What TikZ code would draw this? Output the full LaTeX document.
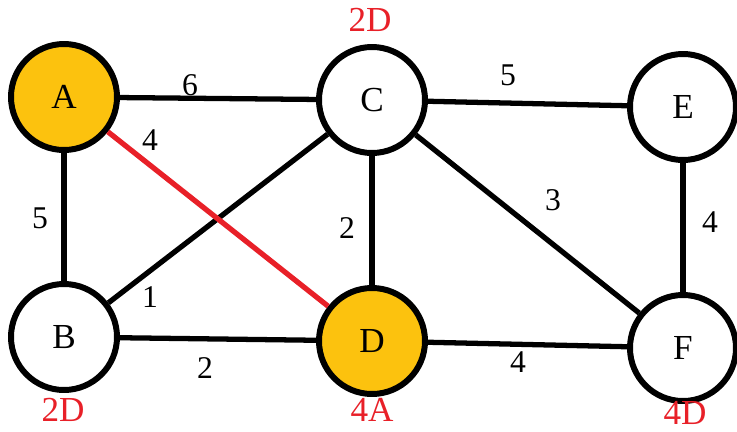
\documentclass[tikz,border=0pt]{standalone}
\usepackage{fontspec}
\setmainfont{Liberation Serif}
\usepackage{xcolor}
\usetikzlibrary{positioning}
\definecolor{visitgold}{RGB}{252,194,14}
\definecolor{pathred}{RGB}{232,32,40}

\begin{document}
\begin{tikzpicture}[
        vertex/.style={circle,draw=black,line width=3.4pt,fill=white,
          minimum size=2.12cm,inner sep=0pt,font=\fontsize{20}{24}\selectfont},
        visited/.style={vertex,fill=visitgold},
        edge/.style={line width=3pt,draw=black},
        bestedge/.style={edge,draw=pathred},
        weight/.style={inner sep=0pt,font=\fontsize{18}{21}\selectfont},
        dist/.style={inner sep=0pt,text=pathred,font=\fontsize{20}{24}\selectfont}
      ]
        \useasboundingbox (0,0) rectangle (14.74,8.62);
        % vertices
        \node[visited] (a) at (1.28,6.68) {A};
        \node[vertex] (c) at (7.44,6.62) {C};
        \node[vertex] (e) at (13.66,6.48) {E};
        \node[vertex] (b) at (1.28,1.88) {B};
        \node[visited] (d) at (7.44,1.80) {D};
        \node[vertex] (f) at (13.66,1.66) {F};
        % edges
        \draw[edge] (a) -- (c);
        \draw[edge] (c) -- (e);
        \draw[edge] (a) -- (b);
        \draw[edge] (b) -- (c);
        \draw[edge] (c) -- (d);
        \draw[edge] (c) -- (f);
        \draw[edge] (e) -- (f);
        \draw[edge] (b) -- (d);
        \draw[edge] (d) -- (f);
        \draw[bestedge] (a) -- (d);
        % weights
        \node[weight] (w-ac) at (3.80,6.92) {6};
        \node[weight] (w-ce) at (10.16,7.12) {5};
        \node[weight] (w-ad) at (3.00,5.82) {4};
        \node[weight] (w-ab) at (0.80,4.26) {5};
        \node[weight] (w-cd) at (6.94,4.06) {2};
        \node[weight] (w-cf) at (11.06,4.62) {3};
        \node[weight] (w-ef) at (14.20,4.18) {4};
        \node[weight] (w-bc) at (3.00,2.68) {1};
        \node[weight] (w-bd) at (4.10,1.26) {2};
        \node[weight] (w-df) at (10.36,1.38) {4};
        % distances
        \node[dist] (dist-c) at (7.40,8.22) {2D};
        \node[dist] (dist-b) at (1.26,0.42) {2D};
        \node[dist] (dist-d) at (7.44,0.42) {4A};
        \node[dist] (dist-f) at (13.70,0.36) {4D};
      \end{tikzpicture}
\end{document}
